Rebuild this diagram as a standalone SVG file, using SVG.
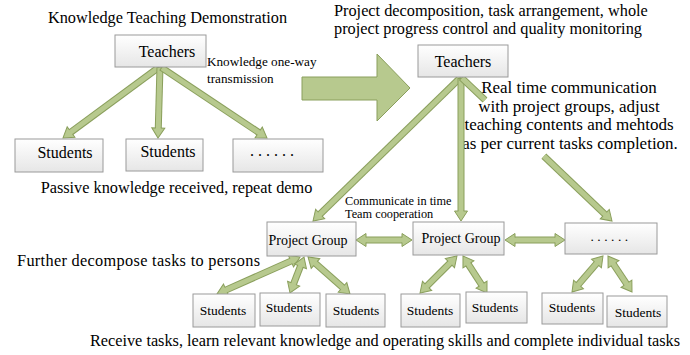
<svg xmlns="http://www.w3.org/2000/svg" xmlns:xlink="http://www.w3.org/1999/xlink" width="690" height="355" viewBox="0 0 690 355" font-family="'Liberation Serif', 'Times New Roman', 'DejaVu Serif', serif">
<style>
text{font-family:'Liberation Serif','Times New Roman','DejaVu Serif',serif;fill:#000}
.big{font-size:16.3px}
.blk{font-size:17px}
.box{fill:url(#bx);stroke:#9a9a9a;stroke-width:1}
.o{stroke:#8a9f5c;stroke-width:7;fill:none}
.i{stroke:#b7c98e;stroke-width:5;fill:none}
.hd{fill:#b7c98e;stroke:#8a9f5c;stroke-width:1;stroke-linejoin:miter}
.m{text-anchor:middle}
.s16{font-size:16px}
.s14{font-size:14px}
.s135{font-size:13.5px}
.s13{font-size:13.2px}
.s12{font-size:12.3px}
</style>
<defs>
<linearGradient id="bx" x1="0" y1="0" x2="0" y2="1">
<stop offset="0" stop-color="#ffffff"/>
<stop offset="1" stop-color="#e6e6e6"/>
</linearGradient>
<path id="hd" class="hd" d="M-10,-2.5 L-10,-6.5 L0,0 L-10,6.5 L-10,2.5"/>
</defs>
<rect width="690" height="355" fill="#fff"/>

<!-- free texts -->
<text class="big m" x="167.5" y="23">Knowledge Teaching Demonstration</text>
<text class="s13" x="207" y="66">Knowledge one-way</text>
<text class="s13" x="207" y="83">transmission</text>
<text class="big m" x="176.5" y="193">Passive knowledge received, repeat demo</text>
<text class="big" x="334" y="16">Project decomposition, task arrangement, whole</text>
<text class="big" x="334" y="34">project progress control and quality monitoring</text>
<text class="blk m" x="569" y="93">Real time communication</text>
<text class="blk m" x="569" y="111.5">with project groups, adjust</text>
<text class="blk m" x="569" y="130">teaching contents and mehtods</text>
<text class="blk m" x="570" y="148.5">as per current tasks completion.</text>
<text class="s12" x="345" y="204.5">Communicate in time</text>
<text class="s12" x="345" y="217.5">Team cooperation</text>
<text class="big" x="17" y="266" textLength="243">Further decompose tasks to persons</text>
<text class="big" x="90" y="346" textLength="590">Receive tasks, learn relevant knowledge and operating skills and complete individual tasks</text>

<g id="connectors">
<polygon points="302,77 377,77 377,54 410,88 377,121 377,100 302,100" fill="#b7c98e" stroke="#8a9f5c" stroke-width="1"/>
<!-- left diagram -->
<g transform="translate(63,138) rotate(143.6)"><line class="o" x1="-119" x2="-9.5"/><line class="i" x1="-118" x2="-9.5"/><use xlink:href="#hd"/></g>
<g transform="translate(158,138) rotate(91.6)"><line class="o" x1="-71" x2="-9.5"/><line class="i" x1="-70" x2="-9.5"/><use xlink:href="#hd"/></g>
<g transform="translate(267,138) rotate(33.7)"><line class="o" x1="-127.2" x2="-9.5"/><line class="i" x1="-126.2" x2="-9.5"/><use xlink:href="#hd"/></g>
<!-- right diagram: teacher to groups -->
<g transform="translate(313,221) rotate(135.8)"><line class="o" x1="-206.1" x2="-9.5"/><line class="i" x1="-205.1" x2="-9.5"/><use xlink:href="#hd"/></g>
<g transform="translate(461,221) rotate(90)"><line class="o" x1="-143" x2="-9.5"/><line class="i" x1="-142" x2="-9.5"/><use xlink:href="#hd"/></g>
<g transform="translate(612,221) rotate(43.6)"><line class="o" x1="-208.2" x2="-175.4"/><line class="i" x1="-207.2" x2="-175.4"/><line class="o" x1="-94.1" x2="-9.5"/><line class="i" x1="-94.1" x2="-9.5"/><use xlink:href="#hd"/></g>
<!-- group to group -->
<g transform="translate(412,240)"><line class="o" x1="-46.5" x2="-9.5"/><line class="i" x1="-46.5" x2="-9.5"/><use xlink:href="#hd"/><use xlink:href="#hd" transform="translate(-56,0) rotate(180)"/></g>
<g transform="translate(565,240)"><line class="o" x1="-50.5" x2="-9.5"/><line class="i" x1="-50.5" x2="-9.5"/><use xlink:href="#hd"/><use xlink:href="#hd" transform="translate(-60,0) rotate(180)"/></g>
<!-- groups to students -->
<g transform="translate(217,294) rotate(156)"><line class="o" x1="-81.4" x2="-9.5"/><line class="i" x1="-81.4" x2="-9.5"/><use xlink:href="#hd"/><use xlink:href="#hd" transform="translate(-90.9,0) rotate(180)"/></g>
<g transform="translate(290,293) rotate(111.3)"><line class="o" x1="-29.1" x2="-9.5"/><line class="i" x1="-29.1" x2="-9.5"/><use xlink:href="#hd"/><use xlink:href="#hd" transform="translate(-38.6,0) rotate(180)"/></g>
<g transform="translate(350,294) rotate(41.4)"><line class="o" x1="-46.5" x2="-9.5"/><line class="i" x1="-46.5" x2="-9.5"/><use xlink:href="#hd"/><use xlink:href="#hd" transform="translate(-56,0) rotate(180)"/></g>
<g transform="translate(420,293) rotate(135)"><line class="o" x1="-42.8" x2="-9.5"/><line class="i" x1="-42.8" x2="-9.5"/><use xlink:href="#hd"/><use xlink:href="#hd" transform="translate(-52.3,0) rotate(180)"/></g>
<g transform="translate(487,293) rotate(57)"><line class="o" x1="-34.6" x2="-9.5"/><line class="i" x1="-34.6" x2="-9.5"/><use xlink:href="#hd"/><use xlink:href="#hd" transform="translate(-44.1,0) rotate(180)"/></g>
<g transform="translate(572,292) rotate(130.7)"><line class="o" x1="-38" x2="-9.5"/><line class="i" x1="-38" x2="-9.5"/><use xlink:href="#hd"/><use xlink:href="#hd" transform="translate(-47.5,0) rotate(180)"/></g>
<g transform="translate(632,292) rotate(56.3)"><line class="o" x1="-33.8" x2="-9.5"/><line class="i" x1="-33.8" x2="-9.5"/><use xlink:href="#hd"/><use xlink:href="#hd" transform="translate(-43.3,0) rotate(180)"/></g>
</g>

<!-- left diagram nodes -->
<g id="teachers-left"><rect class="box" x="115" y="35" width="91" height="32"/><text class="s16 m" x="167" y="57">Teachers</text></g>
<g id="students-l1"><rect class="box" x="15" y="139" width="88" height="33"/><text class="s16 m" x="65" y="158">Students</text></g>
<g id="students-l2"><rect class="box" x="126" y="139" width="77" height="32"/><text class="s16 m" x="168" y="157">Students</text></g>
<g id="more-l3"><rect class="box" x="233" y="139" width="90" height="33"/><text class="s16 m" x="274" y="156" letter-spacing="4">......</text></g>

<!-- right diagram nodes -->
<g id="teachers-right"><rect class="box" x="418" y="45" width="90" height="32"/><text class="s16 m" x="463" y="67">Teachers</text></g>
<g id="group-left"><rect class="box" x="267" y="222" width="89" height="34"/><text class="s14 m" x="308" y="245">Project Group</text></g>
<g id="group-mid"><rect class="box" x="413" y="222" width="91" height="33"/><text class="s14 m" x="461" y="243">Project Group</text></g>
<g id="group-more"><rect class="box" x="565" y="223" width="92" height="31"/><text class="s135 m" x="611" y="241" letter-spacing="3.5">......</text></g>

<g id="students-b1"><rect class="box" x="193" y="294" width="62" height="33"/><text class="s135 m" x="223" y="315">Students</text></g>
<g id="students-b2"><rect class="box" x="260" y="293" width="60" height="33"/><text class="s135 m" x="289" y="312">Students</text></g>
<g id="students-b3"><rect class="box" x="326" y="294" width="59" height="33"/><text class="s135 m" x="356" y="315">Students</text></g>
<g id="students-b4"><rect class="box" x="401" y="294" width="59" height="33"/><text class="s135 m" x="430" y="315">Students</text></g>
<g id="students-b5"><rect class="box" x="466" y="292" width="61" height="31"/><text class="s135 m" x="495" y="312">Students</text></g>
<g id="students-b6"><rect class="box" x="542" y="293" width="61" height="31"/><text class="s135 m" x="572" y="312">Students</text></g>
<g id="students-b7"><rect class="box" x="607" y="296" width="60" height="31"/><text class="s135 m" x="638" y="317">Students</text></g>
</svg>
